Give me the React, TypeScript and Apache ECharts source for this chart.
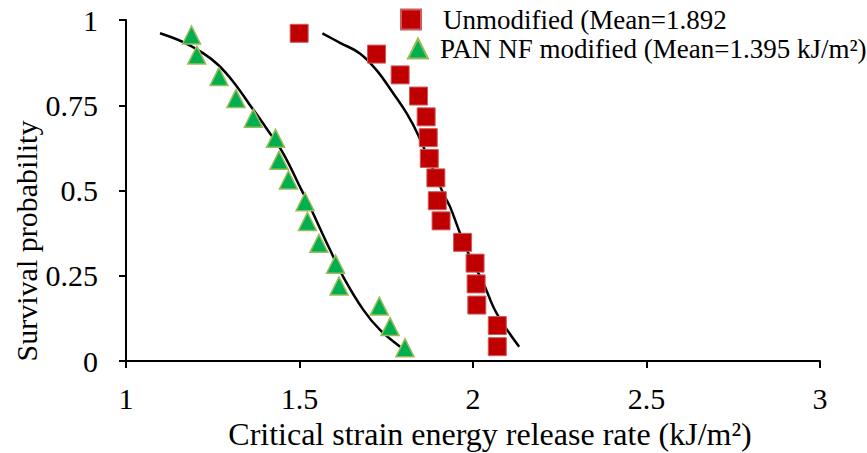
import React, { useEffect, useRef } from "react";
import * as echarts from "echarts";

// Survival probability (median ranks) for the unmodified specimens
const survivalProb = [
  0.961, 0.900, 0.839, 0.777, 0.716, 0.655, 0.594, 0.537,
  0.470, 0.411, 0.348, 0.287, 0.226, 0.164, 0.104, 0.042,
];

// Critical strain energy release rate, kJ/m², per specimen
const unmodifiedGc = [
  1.499, 1.722, 1.790, 1.843, 1.865, 1.871, 1.874, 1.893,
  1.897, 1.908, 1.970, 2.006, 2.009, 2.011, 2.070, 2.070,
];
const panNfGc = [
  1.189, 1.204, 1.268, 1.317, 1.367, 1.431, 1.441, 1.468,
  1.516, 1.523, 1.556, 1.604, 1.614, 1.730, 1.761, 1.804,
];
const panNfProb = [
  0.956, 0.897, 0.834, 0.770, 0.712, 0.653, 0.589, 0.531,
  0.467, 0.409, 0.345, 0.284, 0.220, 0.161, 0.101, 0.039,
];

// Fitted survival curves: Gc and probability
const unmodifiedFitX = [1.566, 1.617, 1.674, 1.722, 1.770, 1.809, 1.842, 1.914, 1.934, 1.963, 1.991, 2.030, 2.068, 2.133];
const unmodifiedFitY = [0.961, 0.933, 0.902, 0.853, 0.785, 0.726, 0.663, 0.492, 0.452, 0.374, 0.306, 0.228, 0.140, 0.042];
const panNfFitX = [1.098, 1.165, 1.223, 1.266, 1.309, 1.357, 1.405, 1.453, 1.506, 1.521, 1.588, 1.626, 1.684, 1.732, 1.790];
const panNfFitY = [0.961, 0.935, 0.902, 0.868, 0.819, 0.751, 0.682, 0.609, 0.501, 0.472, 0.326, 0.247, 0.150, 0.091, 0.042];

const legendNames = [
  "Unmodified (Mean=1.892",
  "PAN NF modified (Mean=1.395 kJ/m²)",
];
const xTitle = "Critical strain energy release rate (kJ/m²)";
const yTitle = "Survival probability";

const FONT = "'Liberation Serif', 'Times New Roman', serif";

const zip = (xs: number[], ys: number[]) => xs.map((x, i) => [x, ys[i]]);

export default function App() {
  const ref = useRef<HTMLDivElement>(null);

  useEffect(() => {
    document.body.style.margin = "0";
    if (!ref.current) return;
    const chart = echarts.init(ref.current, null, { renderer: "svg" });
    const axisCommon = {
      axisLine: { show: true, lineStyle: { color: "#000", width: 2 } },
      axisTick: { show: true, length: 7, lineStyle: { color: "#000", width: 2 } },
      splitLine: { show: false },
    };
    chart.setOption({
      animation: false,
      backgroundColor: "#fff",
      grid: { left: 126, right: 47, top: 20, bottom: 92 },
      xAxis: {
        type: "value",
        min: 1,
        max: 3,
        interval: 0.5,
        ...axisCommon,
        axisLabel: { color: "#000", fontFamily: FONT, fontSize: 30, margin: 22 },
      },
      yAxis: {
        type: "value",
        min: 0,
        max: 1,
        interval: 0.25,
        ...axisCommon,
        axisLabel: { color: "#000", fontFamily: FONT, fontSize: 30, margin: 28 },
      },
      legend: [
        {
          data: [legendNames[0]],
          left: 400,
          top: 6,
          padding: 0,
          itemWidth: 20,
          itemHeight: 20,
          itemGap: 0,
          selectedMode: false,
          textStyle: { color: "#000", fontFamily: FONT, fontSize: 27, padding: [0, 0, 0, 17] },
        },
        {
          data: [legendNames[1]],
          left: 407,
          top: 35,
          padding: 0,
          itemWidth: 20,
          itemHeight: 20,
          itemGap: 0,
          selectedMode: false,
          textStyle: { color: "#000", fontFamily: FONT, fontSize: 27, padding: [0, 0, 0, 7] },
        },
      ],
      graphic: [
        {
          type: "text",
          x: 490,
          y: 434,
          style: {
            text: xTitle,
            font: `32px ${FONT}`,
            fill: "#000",
            align: "center",
            verticalAlign: "middle",
          },
        },
        {
          type: "text",
          x: 26,
          y: 241,
          rotation: Math.PI / 2,
          style: {
            text: yTitle,
            font: `30px ${FONT}`,
            fill: "#000",
            align: "center",
            verticalAlign: "middle",
          },
        },
      ],
      series: [
        {
          type: "line",
          data: zip(panNfFitX, panNfFitY),
          smooth: 0.4,
          showSymbol: false,
          lineStyle: { color: "#000", width: 2.5 },
          z: 1,
        },
        {
          type: "line",
          data: zip(unmodifiedFitX, unmodifiedFitY),
          smooth: 0.4,
          showSymbol: false,
          lineStyle: { color: "#000", width: 2.5 },
          z: 1,
        },
        {
          name: legendNames[0],
          type: "scatter",
          symbol: "rect",
          symbolSize: 18,
          data: zip(unmodifiedGc, survivalProb),
          itemStyle: { color: "#C00000", borderColor: "#CD5C5C", borderWidth: 1, opacity: 1 },
          z: 3,
        },
        {
          name: legendNames[1],
          type: "scatter",
          symbol: "triangle",
          symbolSize: [18, 18],
          data: zip(panNfGc, panNfProb),
          itemStyle: { color: "#00B050", borderColor: "#9BBB59", borderWidth: 1.5, opacity: 1 },
          z: 3,
        },
      ],
    });
    return () => chart.dispose();
  }, []);

  return <div ref={ref} style={{ width: 867, height: 453 }} />;
}
